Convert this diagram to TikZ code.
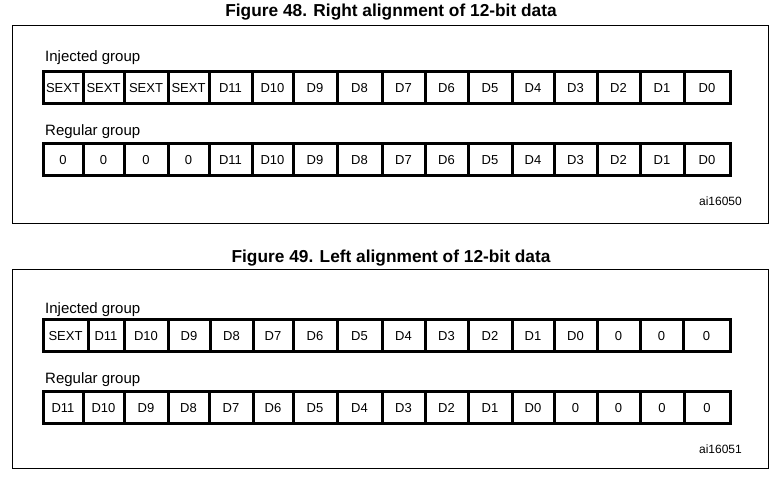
\documentclass[tikz,border=0pt]{standalone}
\usepackage{fontspec}
\setmainfont{Liberation Sans}
\usetikzlibrary{positioning}

\tikzset{
  cell/.style={draw, line width=3pt, fill=white, inner sep=0pt,
    text height=9.3pt, text depth=0pt,
    minimum height=32pt, font=\fontsize{13}{15}\selectfont},
  grouplabel/.style={anchor=base west, inner sep=0pt, font=\fontsize{15}{18}\selectfont},
  figtitle/.style={anchor=base, inner sep=0pt, font=\fontsize{17.3}{20}\selectfont\bfseries},
  figref/.style={anchor=base east, inner sep=0pt, font=\fontsize{12}{14}\selectfont},
  frame/.style={draw, line width=1pt}
}

\begin{document}
\begin{tikzpicture}[x=1pt, y=-1pt]
    \useasboundingbox (0,0) rectangle (783,477);

    % Figure 48
    \node[figtitle] (title48) at (391,16) {Figure 48. Right alignment of 12-bit data};
    \draw[frame] (12,25) rectangle (768,223);
    \node[grouplabel] (inj48) at (45,61) {Injected group};
    \foreach \l/\r/\t [count=\i] in {43/83/SEXT, 83/124/SEXT, 124/168/SEXT, 168/209/SEXT,
        209/252/D11, 252/293/D10, 293/337/D9, 337/382/D8, 382/425/D7, 425/468/D6,
        468/512/D5, 512/554/D4, 554/597/D3, 597/640/D2, 640/684/D1, 684/730/D0}
        \node[cell, minimum width={(\r-\l)*1pt}] (inj48-\i) at ({(\l+\r)/2},87.5) {\t};
    \node[grouplabel] (reg48) at (45,135) {Regular group};
    \foreach \l/\r/\t [count=\i] in {43/83/0, 83/124/0, 124/168/0, 168/209/0,
        209/252/D11, 252/293/D10, 293/337/D9, 337/382/D8, 382/425/D7, 425/468/D6,
        468/512/D5, 512/554/D4, 554/597/D3, 597/640/D2, 640/684/D1, 684/730/D0}
        \node[cell, minimum width={(\r-\l)*1pt}] (reg48-\i) at ({(\l+\r)/2},159.5) {\t};
    \node[figref] (ref48) at (742,205) {ai16050};

    % Figure 49
    \node[figtitle] (title49) at (391,262) {Figure 49. Left alignment of 12-bit data};
    \draw[frame] (12,269) rectangle (768,468);
    \node[grouplabel] (inj49) at (45,313) {Injected group};
    \foreach \l/\r/\t [count=\i] in {43/88/SEXT, 88/124/D11, 124/168/D10, 168/210/D9,
        210/253/D8, 253/293/D7, 293/337/D6, 337/382/D5, 382/425/D4, 425/468/D3,
        468/512/D2, 512/554/D1, 554/597/D0, 597/640/0, 640/683/0, 683/730/0}
        \node[cell, minimum width={(\r-\l)*1pt}] (inj49-\i) at ({(\l+\r)/2},335.5) {\t};
    \node[grouplabel] (reg49) at (45,383) {Regular group};
    \foreach \l/\r/\t [count=\i] in {43/83/D11, 83/124/D10, 124/168/D9, 168/209/D8,
        209/253/D7, 253/293/D6, 293/337/D5, 337/382/D4, 382/425/D3, 425/468/D2,
        468/512/D1, 512/554/D0, 554/597/0, 597/640/0, 640/684/0, 684/730/0}
        \node[cell, minimum width={(\r-\l)*1pt}] (reg49-\i) at ({(\l+\r)/2},407.5) {\t};
    \node[figref] (ref49) at (742,453) {ai16051};
\end{tikzpicture}
\end{document}
